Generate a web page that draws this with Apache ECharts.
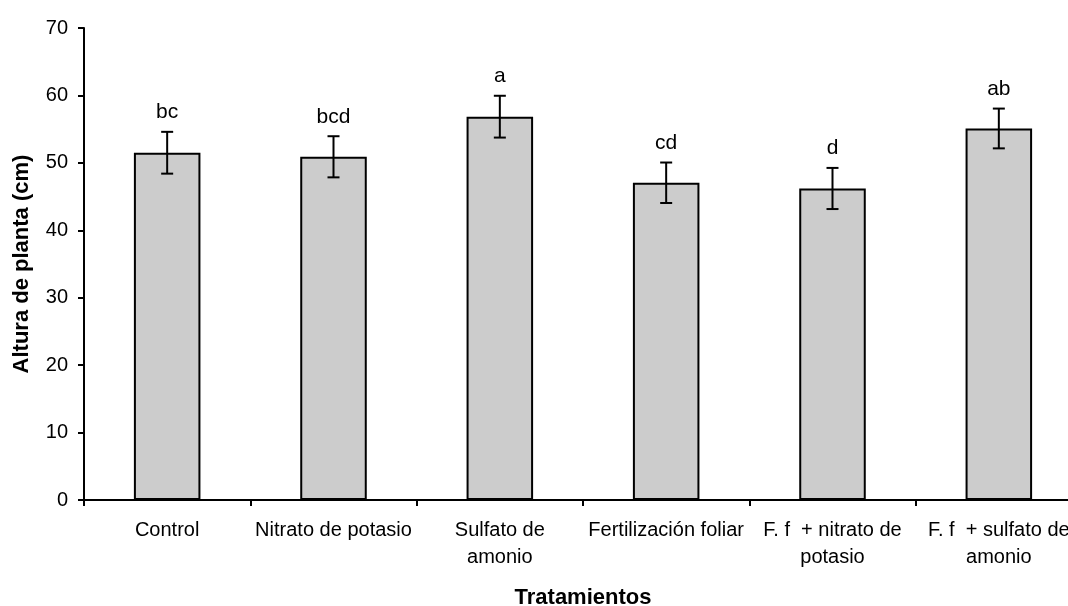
<!DOCTYPE html>
<html>
<head>
<meta charset="utf-8">
<script src="https://cdn.jsdelivr.net/npm/echarts@6/dist/echarts.min.js"></script>
<style>
  html, body { margin: 0; padding: 0; background: #ffffff; }
  #chart { width: 1068px; height: 606px; }
</style>
</head>
<body>
<div id="chart"></div>
<script>
// Plant height by fertilisation treatment, mean ± error, with significance letters
const categories = [
  'Control',
  'Nitrato de potasio',
  'Sulfato de\namonio',
  'Fertilización foliar',
  'F. f  + nitrato de\npotasio',
  'F. f  + sulfato de\namonio'
];
const heights = [51.5, 50.9, 56.85, 47.05, 46.2, 55.1];
const errors = [3.1, 3.05, 3.1, 3.0, 3.05, 2.95];
const letters = ['bc', 'bcd', 'a', 'cd', 'd', 'ab'];
const yTicks = [0, 10, 20, 30, 40, 50, 60, 70];

const FONT = '"Liberation Sans", Arial, sans-serif';

// error bar items: [category index, mean, error]
const errData = heights.map((h, i) => [i, h, errors[i]]);

const chart = echarts.init(document.getElementById('chart'), null, { renderer: 'canvas' });

chart.setOption({
  animation: false,
  backgroundColor: '#ffffff',
  grid: {
    left: 84, top: 28, right: -14, bottom: 106,
    containLabel: false,
    outerBoundsMode: 'none'
  },
  xAxis: {
    type: 'category',
    data: categories,
    name: 'Tratamientos',
    nameLocation: 'middle',
    nameGap: 87,
    nameTextStyle: { fontFamily: FONT, fontSize: 22, fontWeight: 'bold', color: '#000' },
    axisLine: { show: true, lineStyle: { color: '#000', width: 2 } },
    axisTick: { show: true, length: 6, lineStyle: { color: '#000', width: 2 } },
    axisLabel: {
      fontFamily: FONT, fontSize: 20, color: '#000', margin: 17,
      lineHeight: 27, interval: 0
    },
    splitLine: { show: false }
  },
  yAxis: {
    type: 'value',
    min: yTicks[0],
    max: yTicks[yTicks.length - 1],
    interval: 10,
    name: 'Altura de planta (cm)',
    nameLocation: 'middle',
    nameGap: 51,
    nameTextStyle: { fontFamily: FONT, fontSize: 22, fontWeight: 'bold', color: '#000' },
    axisLine: { show: true, lineStyle: { color: '#000', width: 2 } },
    axisTick: { show: true, length: 6, lineStyle: { color: '#000', width: 2 } },
    axisLabel: { fontFamily: FONT, fontSize: 20, color: '#000', margin: 16 },
    splitLine: { show: false }
  },
  series: [
    {
      type: 'bar',
      data: heights,
      barWidth: '40%',
      itemStyle: { color: '#cccccc', borderColor: '#000', borderWidth: 2 },
      z: 2
    },
    {
      type: 'custom',
      data: errData,
      z: 3,
      renderItem: function (params, api) {
        const i = api.value(0);
        const m = api.value(1);
        const e = api.value(2);
        const top = api.coord([i, m + e]);
        const bot = api.coord([i, m - e]);
        const cap = 6;
        const lineStyle = { stroke: '#000', lineWidth: 2 };
        return {
          type: 'group',
          children: [
            { type: 'line', shape: { x1: top[0], y1: top[1], x2: bot[0], y2: bot[1] }, style: lineStyle },
            { type: 'line', shape: { x1: top[0] - cap, y1: top[1], x2: top[0] + cap, y2: top[1] }, style: lineStyle },
            { type: 'line', shape: { x1: bot[0] - cap, y1: bot[1], x2: bot[0] + cap, y2: bot[1] }, style: lineStyle },
            {
              type: 'text',
              style: {
                x: top[0], y: top[1] - 9,
                text: letters[params.dataIndex],
                fontFamily: FONT, fontSize: 21, fill: '#000',
                align: 'center', verticalAlign: 'bottom'
              }
            }
          ]
        };
      }
    }
  ]
});
</script>
</body>
</html>
